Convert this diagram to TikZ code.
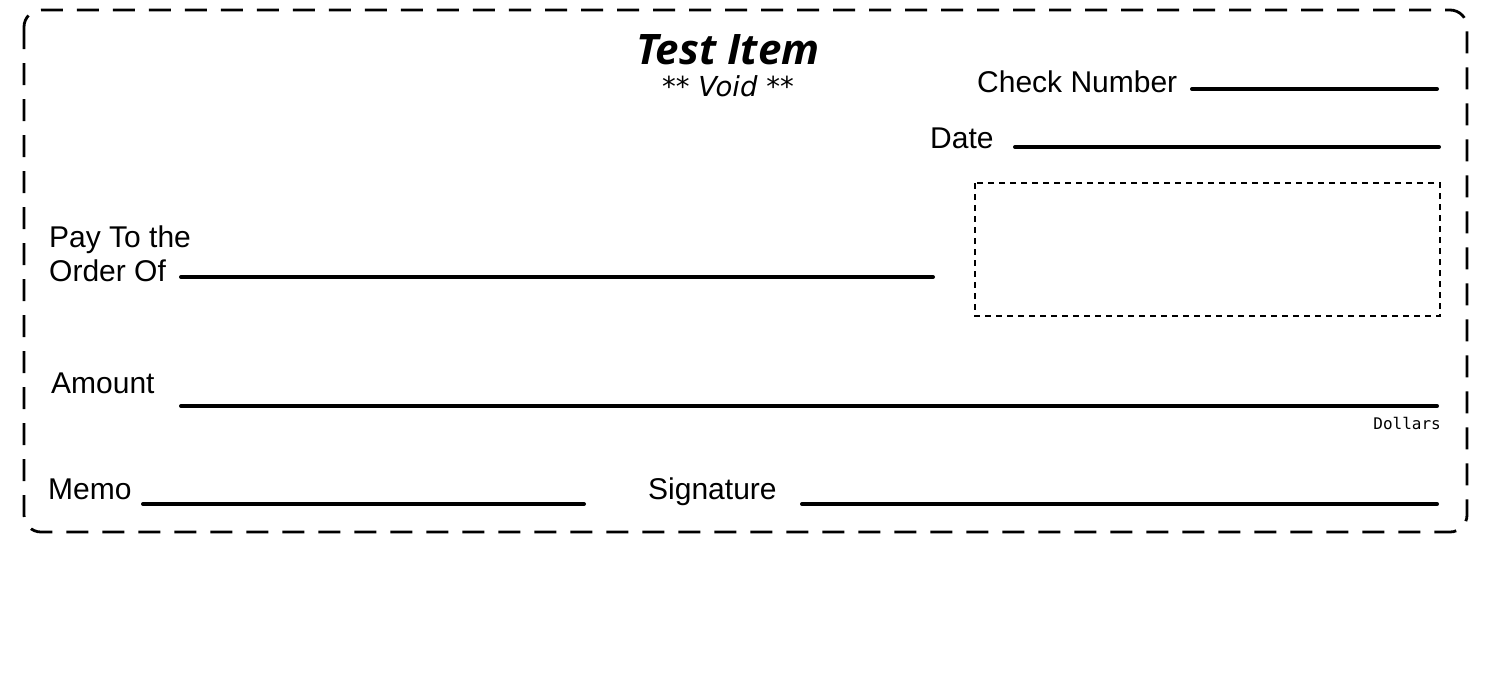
\documentclass[tikz,border=0pt]{standalone}
\usepackage{fontspec}
\setmainfont{Liberation Sans}
\newfontfamily\titlefont{Open Sans}
\newfontfamily\voidfont{DejaVu Sans}
\newfontfamily\dollarfont{DejaVu Sans Mono}
\begin{document}
\begin{tikzpicture}[x=1pt,y=-1pt,
  label/.style={anchor=base west,inner sep=0pt,font=\fontsize{30}{34}\selectfont},
  field/.style={line width=4pt,line cap=round},
  outer/.style={line width=2.8pt,dash pattern=on 22pt off 14pt,rounded corners=17pt},
  stampbox/.style={line width=2pt,dash pattern=on 6pt off 5pt}]
\useasboundingbox (0,0) rectangle (1488,672);
\draw[outer] (24,10) rectangle (1467,532);
% title
\node[anchor=base,inner sep=0pt,font=\titlefont\bfseries\itshape\fontsize{42}{46}\selectfont] (title) at (728,64) {Test Item};
\node[anchor=base,inner sep=0pt,font=\voidfont\itshape\fontsize{27.5}{30}\selectfont] (void) at (728,96) {** Void **};
% check number
\node[label] (chk) at (977,92) {Check Number};
\coordinate (chkA) at (1192,89);
\coordinate (chkB) at (1437,89);
\draw[field] (chkA) -- (chkB);
% date
\node[label] (date) at (930,148) {Date};
\coordinate (dateA) at (1015,147);
\coordinate (dateB) at (1439,147);
\draw[field] (dateA) -- (dateB);
% stamp box
\coordinate (boxA) at (975,183);
\coordinate (boxB) at (1440,316);
\draw[stampbox] (boxA) rectangle (boxB);
% pay to
\node[label] (pay) at (49,247) {Pay To the};
\node[label] (order) at (49,281) {Order Of};
\coordinate (payA) at (181,277);
\coordinate (payB) at (933,277);
\draw[field] (payA) -- (payB);
% amount
\node[label] (amt) at (51,393) {Amount};
\coordinate (amtA) at (181,406);
\coordinate (amtB) at (1437,406);
\draw[field] (amtA) -- (amtB);
\node[anchor=base east,inner sep=0pt,font=\dollarfont\fontsize{16}{18}\selectfont] (dollars) at (1441,429) {Dollars};
% memo
\node[label] (memo) at (48,499) {Memo};
\coordinate (memoA) at (143,504);
\coordinate (memoB) at (584,504);
\draw[field] (memoA) -- (memoB);
% signature
\node[label] (sig) at (648,499) {Signature};
\coordinate (sigA) at (802,504);
\coordinate (sigB) at (1437,504);
\draw[field] (sigA) -- (sigB);
\end{tikzpicture}
\end{document}
